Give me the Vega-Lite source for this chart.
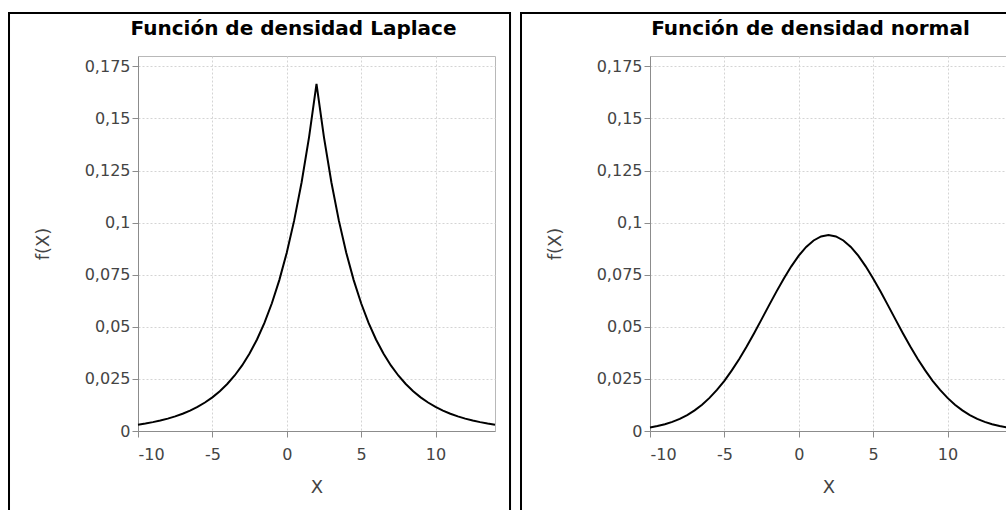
{
  "$schema": "https://vega.github.io/schema/vega-lite/v6.json",
  "padding": {"left": 7, "top": 11, "right": 0, "bottom": 0},
  "spacing": 7,
  "background": "white",
  "config": {
    "locale": {"number": {"decimal": ",", "thousands": ".", "grouping": [3], "currency": ["", " €"], "minus": "-"}},
    "view": {"stroke": "#b8b8b8", "strokeWidth": 1},
    "axis": {
      "grid": true,
      "labelFont": "DejaVu Sans", "labelFontSize": 16, "labelColor": "#444444",
      "titleFont": "DejaVu Sans", "titleFontSize": 18, "titleFontWeight": "normal", "titleColor": "#444444",
      "domainColor": "#8c8c8c", "tickColor": "#8c8c8c", "tickSize": 6,
      "gridColor": "#d4d4d4", "gridDash": [2, 2], "gridWidth": 1, "gridOpacity": 1
    },
    "axisX": {"labelPadding": 9, "titlePadding": 16},
    "axisY": {"labelPadding": 2, "titlePadding": 32},
    "title": {"font": "DejaVu Sans", "fontSize": 20, "fontWeight": "bold", "color": "#000000", "frame": "group", "baseline": "alphabetic", "offset": -27}
  },
  "datasets": {
    "laplace": [
      {"x": -10, "y": 0.00305}, {"x": -9.5, "y": 0.00361}, {"x": -9, "y": 0.00426}, {"x": -8.5, "y": 0.00503},
      {"x": -8, "y": 0.00595}, {"x": -7.5, "y": 0.00702}, {"x": -7, "y": 0.0083}, {"x": -6.5, "y": 0.0098},
      {"x": -6, "y": 0.01158}, {"x": -5.5, "y": 0.01368}, {"x": -5, "y": 0.01616}, {"x": -4.5, "y": 0.01909},
      {"x": -4, "y": 0.02256}, {"x": -3.5, "y": 0.02665}, {"x": -3, "y": 0.03148}, {"x": -2.5, "y": 0.03719},
      {"x": -2, "y": 0.04393}, {"x": -1.5, "y": 0.0519}, {"x": -1, "y": 0.06131}, {"x": -0.5, "y": 0.07243},
      {"x": 0, "y": 0.08557}, {"x": 0.5, "y": 0.10109}, {"x": 1, "y": 0.11942}, {"x": 1.5, "y": 0.14108},
      {"x": 2, "y": 0.16667},
      {"x": 2.5, "y": 0.14108}, {"x": 3, "y": 0.11942}, {"x": 3.5, "y": 0.10109}, {"x": 4, "y": 0.08557},
      {"x": 4.5, "y": 0.07243}, {"x": 5, "y": 0.06131}, {"x": 5.5, "y": 0.0519}, {"x": 6, "y": 0.04393},
      {"x": 6.5, "y": 0.03719}, {"x": 7, "y": 0.03148}, {"x": 7.5, "y": 0.02665}, {"x": 8, "y": 0.02256},
      {"x": 8.5, "y": 0.01909}, {"x": 9, "y": 0.01616}, {"x": 9.5, "y": 0.01368}, {"x": 10, "y": 0.01158},
      {"x": 10.5, "y": 0.0098}, {"x": 11, "y": 0.0083}, {"x": 11.5, "y": 0.00702}, {"x": 12, "y": 0.00595},
      {"x": 12.5, "y": 0.00503}, {"x": 13, "y": 0.00426}, {"x": 13.5, "y": 0.00361}, {"x": 14, "y": 0.00305}
    ],
    "normal": [
      {"x": -10, "y": 0.001722}, {"x": -9.5, "y": 0.002387}, {"x": -9, "y": 0.003263}, {"x": -8.5, "y": 0.004398},
      {"x": -8, "y": 0.005847}, {"x": -7.5, "y": 0.007666}, {"x": -7, "y": 0.009911}, {"x": -6.5, "y": 0.012638},
      {"x": -6, "y": 0.015893}, {"x": -5.5, "y": 0.01971}, {"x": -5, "y": 0.024107}, {"x": -4.5, "y": 0.029081},
      {"x": -4, "y": 0.034593}, {"x": -3.5, "y": 0.040584}, {"x": -3, "y": 0.046955}, {"x": -2.5, "y": 0.053578},
      {"x": -2, "y": 0.060291}, {"x": -1.5, "y": 0.066912}, {"x": -1, "y": 0.073232}, {"x": -0.5, "y": 0.079045},
      {"x": 0, "y": 0.084144}, {"x": 0.5, "y": 0.088335}, {"x": 1, "y": 0.091456}, {"x": 1.5, "y": 0.093381},
      {"x": 2, "y": 0.094032},
      {"x": 2.5, "y": 0.093381}, {"x": 3, "y": 0.091456}, {"x": 3.5, "y": 0.088335}, {"x": 4, "y": 0.084144},
      {"x": 4.5, "y": 0.079045}, {"x": 5, "y": 0.073232}, {"x": 5.5, "y": 0.066912}, {"x": 6, "y": 0.060291},
      {"x": 6.5, "y": 0.053578}, {"x": 7, "y": 0.046955}, {"x": 7.5, "y": 0.040584}, {"x": 8, "y": 0.034593},
      {"x": 8.5, "y": 0.029081}, {"x": 9, "y": 0.024107}, {"x": 9.5, "y": 0.01971}, {"x": 10, "y": 0.015893},
      {"x": 10.5, "y": 0.012638}, {"x": 11, "y": 0.009911}, {"x": 11.5, "y": 0.007666}, {"x": 12, "y": 0.005847},
      {"x": 12.5, "y": 0.004398}, {"x": 13, "y": 0.003263}, {"x": 13.5, "y": 0.002387}, {"x": 14, "y": 0.001722}
    ]
  },
  "hconcat": [
    {
      "width": 357,
      "height": 375,
      "title": {"text": "Función de densidad Laplace", "dx": -23},
      "layer": [
        {
          "data": {"values": [{}]},
          "mark": {"type": "rect", "fill": "transparent", "stroke": "black", "strokeWidth": 2, "clip": false},
          "encoding": {
            "x": {"datum": -18.672, "type": "quantitative", "scale": {"domain": [-10, 14], "nice": false, "zero": false}},
            "x2": {"datum": 15.01},
            "y": {"datum": 0.2006, "type": "quantitative", "scale": {"domain": [0, 0.18], "nice": false, "zero": false}},
            "y2": {"datum": -0.05}
          }
        },
        {
          "data": {"name": "laplace"},
          "mark": {"type": "line", "color": "black", "strokeWidth": 2},
          "encoding": {
            "x": {"field": "x", "type": "quantitative", "scale": {"domain": [-10, 14], "nice": false, "zero": false},
                  "axis": {"values": [-10, -5, 0, 5, 10], "title": "X", "format": "~g", "grid": true}},
            "y": {"field": "y", "type": "quantitative", "scale": {"domain": [0, 0.18], "nice": false, "zero": false},
                  "axis": {"values": [0, 0.025, 0.05, 0.075, 0.1, 0.125, 0.15, 0.175], "title": "f(X)", "format": ".3~f", "grid": true}}
          }
        }
      ]
    },
    {
      "width": 357,
      "height": 375,
      "title": {"text": "Función de densidad normal", "dx": -18},
      "layer": [
        {
          "data": {"values": [{}]},
          "mark": {"type": "rect", "fill": "transparent", "stroke": "black", "strokeWidth": 2, "clip": false},
          "encoding": {
            "x": {"datum": -18.672, "type": "quantitative", "scale": {"domain": [-10, 14], "nice": false, "zero": false}},
            "x2": {"datum": 15.01},
            "y": {"datum": 0.2006, "type": "quantitative", "scale": {"domain": [0, 0.18], "nice": false, "zero": false}},
            "y2": {"datum": -0.05}
          }
        },
        {
          "data": {"name": "normal"},
          "mark": {"type": "line", "color": "black", "strokeWidth": 2},
          "encoding": {
            "x": {"field": "x", "type": "quantitative", "scale": {"domain": [-10, 14], "nice": false, "zero": false},
                  "axis": {"values": [-10, -5, 0, 5, 10], "title": "X", "format": "~g", "grid": true}},
            "y": {"field": "y", "type": "quantitative", "scale": {"domain": [0, 0.18], "nice": false, "zero": false},
                  "axis": {"values": [0, 0.025, 0.05, 0.075, 0.1, 0.125, 0.15, 0.175], "title": "f(X)", "format": ".3~f", "grid": true}}
          }
        }
      ]
    }
  ]
}
